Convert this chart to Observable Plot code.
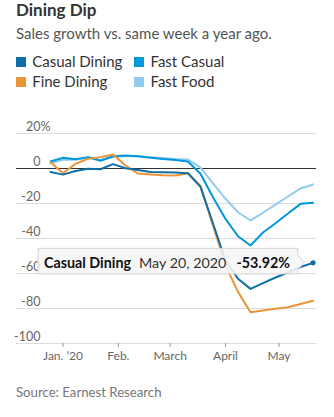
<!DOCTYPE html>
<html>
<head>
<meta charset="utf-8">
<script src="https://cdn.jsdelivr.net/npm/d3@7"></script>
<script src="https://cdn.jsdelivr.net/npm/@observablehq/plot@0.6"></script>
<style>
  body { margin: 0; background: #fff; font-family: Lato, sans-serif; }
  #wrap { position: relative; width: 334px; height: 417px; overflow: hidden; }
  .abs { position: absolute; white-space: nowrap; }
  #title { left: 16px; top: 0px; font-size: 17px; line-height: 20px; font-weight: 700; color: #333; }
  #subtitle { left: 16px; top: 23.5px; font-size: 15px; line-height: 18px; color: #555; }
  .leg { font-size: 15px; line-height: 18px; color: #333; }
  .sw { position: absolute; width: 10px; height: 10px; }
  #chart { left: 0; top: 100px; }
  #source { left: 16px; top: 384px; font-size: 13.2px; line-height: 17px; color: #777; }
</style>
</head>
<body>
<div id="wrap">
  <div id="title" class="abs">Dining Dip</div>
  <div id="subtitle" class="abs">Sales growth vs. same week a year ago.</div>
  <div id="chart" class="abs"></div>
  <div id="source" class="abs">Source: Earnest Research</div>
</div>
<script>
// ---- data ----
const weeks = ["2019-12-25","2020-01-01","2020-01-08","2020-01-15","2020-01-22","2020-01-29",
  "2020-02-05","2020-02-12","2020-02-19","2020-02-26","2020-03-04","2020-03-11","2020-03-18",
  "2020-03-25","2020-04-01","2020-04-08","2020-04-15","2020-04-22","2020-04-29","2020-05-06",
  "2020-05-13","2020-05-20"];
const casualDining = [-2.0,-3.5,-1.4,-0.1,-0.4,2.5,0.2,-0.9,-2.0,-2.2,-2.3,-2.7,-10.5,-31.4,-52.6,-63.0,-68.8,-65.5,-62.3,-59.4,-56.3,-53.92];
const fastCasual   = [4.0,6.1,5.3,6.5,4.4,7.0,7.4,7.0,6.2,5.4,4.8,4.0,-3.0,-16.4,-28.8,-38.7,-44.0,-36.6,-31.3,-25.7,-20.2,-19.6];
const fineDining   = [3.6,-2.7,2.7,5.5,6.5,8.0,1.7,-2.9,-3.4,-3.8,-4.0,-2.7,-10.0,-32.6,-55.4,-70.5,-82.1,-81.1,-80.2,-79.3,-77.4,-75.6];
const fastFood     = [3.0,5.0,5.0,6.0,5.0,6.5,7.0,7.0,6.5,6.0,5.5,5.2,0.5,-8.5,-17.3,-25.0,-29.7,-25.3,-20.6,-16.0,-11.4,-9.1];

const seriesNames  = ["Casual Dining","Fast Casual","Fine Dining","Fast Food"];
const seriesColors = ["#0f6fa6","#0098d8","#eb953a","#92cbee"];
const drawOrder    = ["Fast Food","Fast Casual","Fine Dining","Casual Dining"];
const yGrid        = [20,-20,-40,-60,-80,-100];
const yLabels      = [20,0,-20,-40,-60,-80,-100];
const monthTicks   = ["2020-01-01","2020-02-01","2020-03-01","2020-04-01","2020-05-01"];
const monthLabels  = ["Jan. \u201920","Feb.","March","April","May"];
const tipSeries    = "Casual Dining";
const tipDateLabel = "May 20, 2020";

// ---- build table ----
const valuesBy = {"Casual Dining": casualDining, "Fast Casual": fastCasual, "Fine Dining": fineDining, "Fast Food": fastFood};
const rows = drawOrder.flatMap(name => weeks.map((w, i) => ({series: name, date: new Date(w), value: valuesBy[name][i]})));
const colorOf = Object.fromEntries(seriesNames.map((n, i) => [n, seriesColors[i]]));
const tickDates = monthTicks.map(d => new Date(d));
const labelOf = new Map(tickDates.map((d, i) => [+d, monthLabels[i]]));
const lastRow = rows.filter(r => r.series === tipSeries).slice(-1);

// ---- legend ----
function wrapAppend(el){ document.getElementById("wrap").appendChild(el); }
const legPos = [[15.7, 52], [134, 52], [15.7, 72], [134, 72]];
seriesNames.forEach((n, i) => {
  const [lx, ly] = legPos[i];
  const sw = document.createElement("div");
  sw.className = "sw";
  sw.style.left = lx + "px"; sw.style.top = (ly + 5.3) + "px"; sw.style.background = seriesColors[i];
  wrapAppend(sw);
  const t = document.createElement("div");
  t.className = "abs leg";
  t.style.left = (lx + 16.5) + "px"; t.style.top = ly + "px";
  t.textContent = n;
  wrapAppend(t);
});

// ---- chart ----
const chart = Plot.plot({
  width: 334, height: 270,
  marginLeft: 16, marginRight: 18, marginTop: 33, marginBottom: 27,
  style: {fontFamily: "Lato, sans-serif", background: "transparent", overflow: "visible"},
  x: {type: "utc", domain: [new Date(weeks[0]), new Date(weeks[weeks.length - 1])], range: [50, 312.5]},
  y: {axis: null, domain: [-100, 20], range: [243, 33]},
  color: {domain: seriesNames, range: seriesColors},
  marks: [
    Plot.ruleY(yGrid, {stroke: "#dcdcdc", strokeWidth: 1}),
    Plot.ruleY([0], {stroke: "#333", strokeWidth: 1}),
    Plot.text(yLabels, {y: d => d, text: d => String(d), frameAnchor: "left", dx: 24, dy: -7, textAnchor: "end", fontSize: 12.5, fill: "#666"}),
    Plot.text(yLabels.filter(d => d === 20), {y: d => d, text: () => "%", frameAnchor: "left", dx: 24, dy: -7, textAnchor: "start", fontSize: 12.5, fill: "#666"}),
    Plot.axisX({ticks: tickDates, tickFormat: d => labelOf.get(+d), tickSize: 4, tickPadding: 4, fontSize: 12, color: "#666", stroke: "#999"}),
    Plot.line(rows, {x: "date", y: "value", z: "series", stroke: "series", strokeWidth: 2, strokeLinejoin: "round"}),
    Plot.dot(lastRow, {x: "date", y: "value", r: 2.6, fill: d => colorOf[d.series], stroke: "none"})
  ]
});
document.getElementById("chart").appendChild(chart);

// ---- tooltip anchored to the last Casual Dining point ----
const xs = chart.scale("x"), ys = chart.scale("y");
const px = xs.apply(lastRow[0].date), py = ys.apply(lastRow[0].value);
const tip = d3.select(chart).append("g");
const box = tip.append("path");
const txt = tip.append("text")
  .attr("x", px - 22.5).attr("y", py + 5.5).attr("text-anchor", "end")
  .attr("font-size", 14.3).attr("font-family", "Lato, sans-serif").attr("fill", "#111");
txt.append("tspan").attr("font-weight", 700).text(tipSeries);
txt.append("tspan").attr("dx", 8).attr("fill", "#333").text(tipDateLabel);
txt.append("tspan").attr("dx", 10).attr("font-weight", 700).text(lastRow[0].value.toFixed(2) + "%");
const bb = txt.node().getBBox();
const L = bb.x - 6, R = px - 14.5, T = py - 14, B = py + 11.6;
box.attr("d", `M${L},${T}H${R}V${py - 7}L${px - 7.5},${py}L${R},${py + 7}V${B}H${L}Z`)
  .attr("fill", "#f6f6f6").attr("fill-opacity", 0.88).attr("stroke", "#d4d4d4").attr("stroke-width", 1);
</script>
</body>
</html>
